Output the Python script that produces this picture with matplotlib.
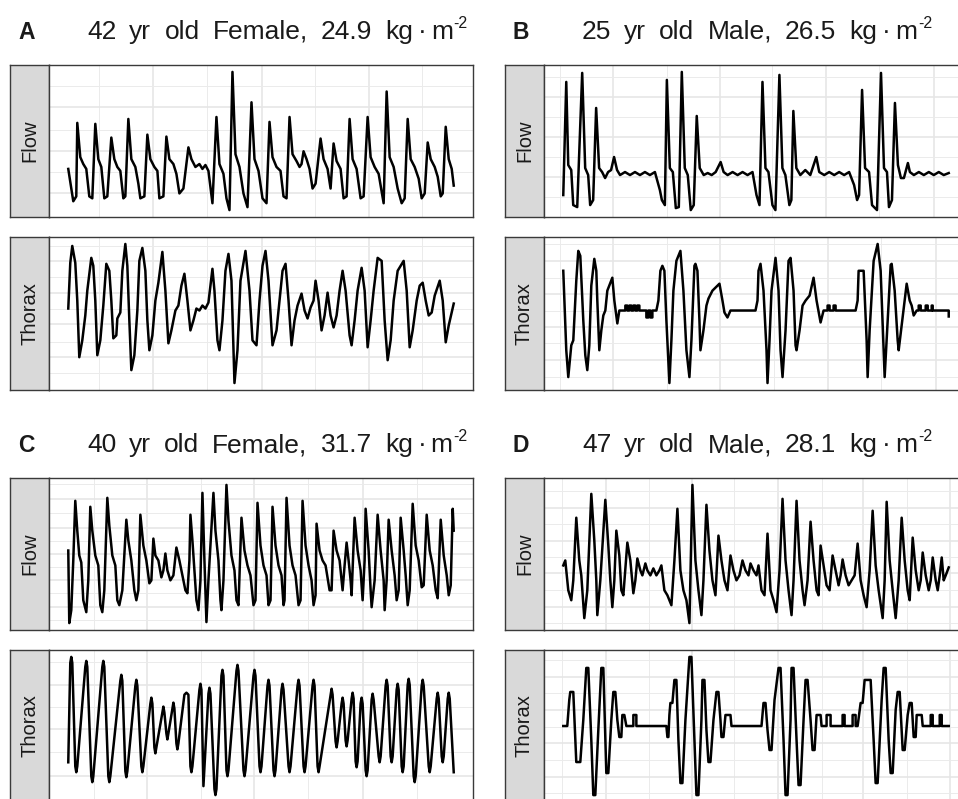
import matplotlib
matplotlib.use('Agg')
import matplotlib.pyplot as plt
import numpy as np

plt.rcParams['font.family'] = ['Liberation Sans', 'DejaVu Sans']

# ---- data: (sample, amplitude) ----
letters = ['A', 'B', 'C', 'D']
titles = ['42 yr old Female, 24.9', '25 yr old Male, 26.5',
          '40 yr old Female, 31.7', '47 yr old Male, 28.1']
facets = ['Flow', 'Thorax']

a_flow = [(69, 50), (74, 17), (77, 22), (78, 97), (81, 62), (84, 55), (87, 50), (90, 22), (93, 20),
          (96, 96), (99, 60), (102, 52), (105, 20), (108, 22), (112, 82), (115, 60), (118, 52), (121, 48),
          (124, 20), (126, 22), (129, 101), (132, 60), (136, 52), (139, 35), (141, 20), (145, 22), (148, 85),
          (151, 60), (155, 52), (158, 48), (160, 20), (164, 22), (167, 83), (170, 60), (174, 55), (177, 45),
          (180, 25), (184, 30), (189, 72), (192, 60), (196, 52), (200, 55), (203, 50), (206, 54), (209, 48),
          (213, 15), (217, 103), (220, 55), (224, 45), (227, 20), (230, 8), (233, 149), (236, 65), (240, 52),
          (244, 25), (248, 11), (252, 118), (255, 60), (259, 48), (263, 20), (267, 15), (270, 98), (273, 62),
          (277, 52), (281, 48), (284, 22), (287, 20), (290, 103), (293, 65), (297, 58), (300, 52), (302, 55),
          (304, 68), (307, 60), (310, 50), (313, 30), (316, 35), (321, 81), (324, 60), (328, 50), (331, 30),
          (334, 76), (337, 58), (341, 50), (344, 20), (347, 22), (350, 101), (353, 60), (357, 50), (361, 20),
          (364, 22), (368, 103), (371, 62), (375, 52), (379, 45), (384, 15), (387, 129), (390, 62), (394, 52),
          (398, 30), (402, 15), (405, 20), (408, 101), (411, 60), (415, 52), (419, 40), (422, 20), (425, 25),
          (428, 77), (431, 60), (435, 52), (438, 42), (441, 22), (443, 25), (446, 93), (449, 60), (452, 50),
          (454, 33)]

a_thorax = [(69, 92), (71, 138), (73, 155), (76, 138), (78, 100), (80, 43), (83, 60), (86, 85), (88, 110),
            (92, 143), (94, 135), (96, 100), (98, 45), (101, 60), (104, 95), (107, 137), (110, 130), (112, 100),
            (114, 62), (117, 65), (118, 82), (121, 88), (123, 130), (126, 157), (128, 135), (130, 80), (132, 30),
            (135, 45), (138, 90), (140, 140), (143, 153), (146, 130), (148, 80), (150, 50), (153, 65), (156, 100),
            (159, 118), (163, 149), (166, 110), (169, 57), (172, 70), (176, 90), (179, 95), (182, 115), (185, 127),
            (188, 100), (191, 70), (194, 80), (197, 92), (200, 90), (203, 95), (206, 92), (209, 98), (213, 132),
            (215, 110), (218, 60), (220, 50), (223, 80), (226, 130), (229, 147), (232, 120), (235, 17), (238, 50),
            (241, 120), (246, 150), (250, 110), (253, 60), (257, 55), (260, 100), (263, 135), (266, 150),
            (269, 120), (273, 55), (277, 70), (280, 100), (283, 130), (286, 137), (289, 100), (292, 55), (295, 80),
            (298, 95), (302, 107), (305, 90), (308, 82), (311, 93), (314, 100), (316, 120), (319, 100), (322, 70),
            (325, 85), (328, 108), (331, 85), (334, 73), (337, 85), (340, 110), (343, 130), (346, 110), (350, 65),
            (352, 55), (355, 80), (358, 110), (362, 133), (365, 110), (368, 53), (371, 80), (374, 110), (378, 143),
            (382, 140), (385, 80), (388, 40), (391, 60), (394, 100), (398, 130), (404, 140), (407, 110), (410, 53),
            (413, 70), (417, 100), (420, 115), (423, 118), (426, 100), (429, 85), (432, 88), (435, 105), (440, 120),
            (443, 100), (446, 58), (449, 75), (452, 88), (454, 97)]

b_flow = [(563, 25), (566, 138), (568, 55), (571, 50), (573, 15), (577, 13), (582, 147), (585, 52), (588, 45),
          (590, 15), (593, 20), (596, 112), (599, 52), (602, 48), (605, 42), (608, 48), (611, 50), (614, 63),
          (617, 50), (620, 45), (625, 48), (630, 45), (635, 48), (640, 45), (645, 48), (650, 45), (655, 48),
          (660, 30), (662, 20), (665, 15), (667, 140), (670, 52), (673, 48), (676, 12), (679, 13), (682, 148),
          (685, 52), (688, 45), (691, 10), (694, 15), (697, 104), (700, 52), (704, 45), (708, 47), (712, 45),
          (716, 48), (721, 58), (724, 48), (728, 45), (733, 48), (738, 45), (743, 48), (748, 45), (753, 48),
          (757, 25), (760, 15), (763, 138), (766, 52), (769, 48), (773, 15), (776, 10), (780, 145), (783, 52),
          (786, 45), (790, 15), (792, 20), (794, 109), (797, 52), (801, 45), (806, 50), (811, 45), (817, 63),
          (820, 48), (825, 45), (830, 48), (835, 45), (840, 48), (845, 45), (850, 48), (855, 35), (858, 20),
          (860, 25), (863, 130), (866, 52), (870, 48), (873, 15), (878, 10), (882, 147), (885, 52), (888, 48),
          (890, 13), (893, 20), (896, 117), (899, 55), (902, 42), (905, 42), (909, 57), (911, 48), (915, 45),
          (920, 48), (925, 45), (930, 48), (935, 45), (940, 48), (945, 45), (950, 47)]

b_thorax = [(563, 130), (566, 50), (568, 23), (571, 55), (573, 60), (576, 120), (578, 150), (580, 145),
            (583, 80), (585, 45), (587, 30), (589, 55), (591, 115), (594, 142), (596, 130), (597, 100), (599, 50),
            (601, 70), (603, 85), (605, 90), (607, 110), (612, 123), (614, 100), (617, 77), (619, 90), (625, 90),
            (625, 95), (627, 95), (627, 90), (629, 90), (629, 95), (631, 95), (631, 90), (633, 90), (633, 95),
            (635, 95), (635, 90), (637, 90), (637, 95), (639, 95), (639, 90), (646, 90), (646, 83), (648, 83),
            (648, 90), (650, 90), (650, 83), (652, 83), (652, 90), (656, 90), (658, 100), (660, 130), (662, 135),
            (664, 130), (666, 80), (669, 17), (671, 60), (673, 110), (676, 140), (680, 150), (683, 110), (686, 50),
            (689, 23), (691, 60), (694, 135), (695, 137), (697, 130), (699, 80), (700, 50), (703, 70), (706, 95),
            (708, 102), (712, 110), (719, 117), (722, 100), (724, 88), (727, 83), (730, 90), (755, 90), (757, 100),
            (758, 130), (760, 137), (763, 110), (766, 50), (767, 17), (769, 60), (771, 110), (775, 143), (778, 110),
            (780, 50), (782, 23), (785, 70), (788, 140), (790, 143), (793, 110), (795, 55), (796, 50), (799, 70),
            (802, 95), (805, 100), (809, 105), (813, 123), (816, 100), (820, 78), (823, 90), (827, 90), (827, 95),
            (829, 95), (829, 90), (833, 90), (833, 95), (835, 95), (835, 90), (855, 90), (857, 100), (858, 130),
            (863, 130), (866, 60), (867, 23), (869, 70), (873, 140), (877, 157), (880, 130), (883, 50), (884, 23),
            (887, 80), (890, 136), (891, 137), (894, 110), (897, 60), (898, 50), (901, 75), (904, 100), (906, 117),
            (909, 100), (911, 95), (913, 85), (916, 90), (918, 90), (918, 95), (920, 95), (920, 90), (925, 90),
            (925, 95), (927, 95), (927, 90), (931, 90), (931, 95), (932, 95), (932, 90), (948, 90), (948, 84)]

c_flow = [(69, 80), (70, 7), (72, 20), (74, 70), (76, 130), (78, 100), (80, 75), (82, 68), (84, 30), (87, 18),
          (89, 50), (91, 124), (93, 100), (96, 75), (99, 65), (101, 25), (103, 18), (105, 40), (108, 133),
          (110, 105), (113, 75), (116, 65), (118, 30), (120, 25), (123, 40), (127, 111), (129, 90), (132, 70),
          (135, 40), (137, 30), (139, 40), (141, 116), (144, 85), (147, 70), (150, 47), (152, 50), (154, 92),
          (156, 75), (159, 70), (162, 53), (164, 60), (166, 77), (168, 60), (171, 50), (174, 55), (177, 83),
          (180, 70), (183, 55), (186, 40), (188, 37), (190, 70), (191, 116), (193, 90), (195, 60), (197, 30),
          (199, 20), (201, 50), (203, 138), (205, 70), (207, 8), (209, 50), (214, 138), (216, 100), (219, 70),
          (221, 30), (222, 20), (224, 50), (227, 146), (229, 110), (232, 75), (235, 60), (237, 30), (239, 25),
          (242, 113), (245, 80), (248, 65), (251, 55), (254, 25), (256, 30), (258, 128), (261, 85), (264, 65),
          (267, 55), (269, 25), (271, 30), (273, 124), (276, 85), (279, 65), (282, 55), (284, 25), (285, 30),
          (287, 133), (290, 85), (293, 65), (296, 55), (299, 25), (301, 30), (303, 130), (306, 85), (309, 65),
          (312, 50), (314, 25), (316, 35), (317, 107), (320, 80), (323, 70), (326, 65), (330, 40), (332, 40),
          (334, 100), (337, 80), (340, 70), (343, 40), (345, 65), (347, 88), (349, 70), (351, 50), (352, 35),
          (355, 113), (358, 80), (361, 60), (363, 30), (365, 70), (366, 122), (369, 80), (371, 40), (372, 23),
          (375, 50), (378, 116), (381, 80), (384, 50), (385, 20), (387, 50), (389, 111), (392, 80), (395, 55),
          (397, 30), (399, 40), (401, 113), (404, 80), (406, 55), (408, 25), (410, 40), (413, 127), (416, 85),
          (419, 70), (422, 43), (424, 45), (427, 116), (430, 80), (433, 65), (436, 40), (438, 32), (441, 111),
          (444, 75), (447, 55), (449, 35), (451, 45), (453, 122), (454, 100)]

c_thorax = [(69, 37), (71, 137), (72, 143), (73, 137), (76, 33), (77, 27), (78, 33), (86, 133), (87, 139),
            (88, 133), (92, 23), (93, 17), (94, 23), (103, 133), (104, 139), (105, 133), (109, 23), (110, 17),
            (111, 23), (121, 119), (122, 125), (123, 119), (126, 28), (127, 22), (128, 28), (136, 114), (137, 120),
            (138, 114), (142, 33), (143, 27), (144, 33), (151, 96), (152, 102), (153, 96), (155, 52), (156, 46),
            (157, 52), (163, 87), (164, 93), (165, 87), (167, 66), (168, 60), (169, 66), (173, 91), (174, 97),
            (175, 91), (177, 56), (178, 50), (179, 56), (185, 105), (187, 107), (189, 105), (191, 33), (192, 27),
            (193, 33), (200, 110), (201, 116), (202, 110), (204, 13), (209, 106), (210, 112), (211, 106),
            (215, 10), (216, 4), (217, 10), (222, 124), (223, 130), (224, 124), (227, 29), (228, 23), (229, 29),
            (237, 129), (238, 135), (239, 129), (244, 29), (245, 23), (246, 29), (254, 124), (255, 130), (256, 124),
            (260, 33), (261, 27), (262, 33), (268, 114), (269, 120), (270, 114), (274, 29), (275, 23), (276, 29),
            (282, 110), (283, 116), (284, 110), (289, 33), (290, 27), (291, 33), (298, 114), (299, 120), (300, 114),
            (304, 33), (305, 27), (306, 33), (313, 114), (314, 120), (315, 114), (318, 33), (319, 27), (320, 33),
            (331, 105), (332, 111), (333, 105), (336, 58), (337, 52), (338, 58), (342, 96), (343, 102), (344, 96),
            (346, 59), (347, 53), (348, 59), (352, 101), (353, 107), (354, 101), (356, 38), (357, 32), (358, 38),
            (361, 96), (362, 102), (363, 96), (366, 29), (367, 23), (368, 29), (372, 100), (373, 106), (374, 100),
            (379, 43), (380, 37), (381, 43), (386, 114), (387, 120), (388, 114), (391, 43), (392, 37), (393, 43),
            (397, 110), (398, 116), (399, 110), (402, 33), (403, 27), (404, 33), (408, 115), (409, 121), (410, 115),
            (414, 23), (415, 17), (416, 23), (422, 114), (423, 120), (424, 114), (429, 33), (430, 27), (431, 33),
            (437, 101), (438, 107), (439, 101), (442, 43), (443, 37), (444, 43), (448, 101), (449, 107), (450, 101),
            (454, 27)]

d_flow = [(564, 65), (566, 70), (569, 40), (572, 30), (574, 50), (577, 113), (580, 70), (582, 55), (585, 12),
          (588, 40), (592, 137), (595, 90), (597, 50), (598, 15), (601, 50), (606, 131), (609, 85), (611, 50),
          (613, 23), (615, 50), (617, 100), (620, 75), (622, 40), (624, 35), (628, 88), (631, 70), (634, 37),
          (636, 50), (638, 72), (641, 60), (643, 55), (646, 67), (648, 60), (651, 55), (654, 62), (657, 55),
          (660, 60), (662, 65), (665, 40), (668, 35), (672, 25), (675, 70), (678, 122), (681, 60), (684, 40),
          (687, 30), (690, 7), (693, 146), (696, 70), (699, 40), (702, 15), (704, 50), (707, 126), (710, 80),
          (713, 50), (716, 35), (719, 95), (722, 70), (725, 50), (728, 40), (731, 75), (734, 60), (737, 50),
          (740, 55), (743, 70), (746, 60), (749, 55), (751, 67), (754, 60), (757, 55), (759, 65), (762, 40),
          (765, 35), (768, 97), (771, 40), (774, 30), (777, 18), (780, 60), (783, 132), (786, 70), (789, 40),
          (792, 15), (794, 50), (797, 130), (800, 70), (803, 40), (805, 25), (808, 50), (811, 109), (814, 70),
          (817, 40), (819, 35), (821, 85), (824, 65), (827, 45), (830, 40), (833, 75), (836, 60), (839, 45),
          (841, 55), (843, 71), (846, 55), (849, 45), (852, 50), (855, 55), (858, 87), (861, 50), (864, 35),
          (867, 23), (870, 60), (873, 120), (876, 65), (879, 40), (883, 12), (885, 50), (887, 129), (890, 70),
          (893, 40), (896, 12), (899, 50), (902, 113), (905, 70), (908, 40), (910, 30), (913, 93), (916, 60),
          (919, 40), (921, 50), (923, 78), (926, 55), (929, 40), (931, 50), (933, 73), (936, 50), (938, 40),
          (940, 55), (942, 73), (944, 50), (946, 55), (949, 63)]

d_thorax = [(564, 74), (568, 74), (570, 100), (571, 108), (574, 108), (576, 60), (577, 38), (581, 38), (584, 80),
            (587, 132), (589, 132), (592, 60), (594, 5), (596, 5), (599, 70), (602, 132), (604, 132), (606, 60),
            (607, 27), (609, 27), (612, 80), (614, 108), (616, 108), (618, 80), (620, 63), (622, 63), (623, 85),
            (625, 85), (627, 74), (634, 74), (634, 85), (637, 85), (637, 74), (667, 74), (668, 63), (669, 63),
            (670, 85), (671, 97), (673, 97), (675, 120), (677, 120), (679, 60), (681, 17), (683, 17), (686, 80),
            (690, 143), (692, 143), (695, 60), (697, 5), (699, 5), (702, 80), (703, 120), (705, 120), (707, 70),
            (709, 38), (711, 38), (714, 80), (717, 108), (719, 108), (721, 80), (722, 63), (724, 63), (726, 85),
            (731, 85), (732, 74), (762, 74), (763, 85), (764, 97), (766, 97), (768, 70), (770, 50), (772, 50),
            (775, 100), (779, 132), (781, 132), (784, 60), (786, 5), (788, 5), (791, 80), (792, 132), (794, 132),
            (797, 60), (799, 15), (801, 15), (804, 80), (806, 120), (808, 120), (811, 80), (813, 50), (815, 50),
            (817, 85), (821, 85), (822, 74), (827, 74), (827, 85), (831, 85), (831, 74), (843, 74), (843, 85),
            (845, 85), (845, 74), (853, 74), (853, 85), (856, 85), (856, 74), (858, 74), (861, 97), (863, 97),
            (865, 120), (871, 120), (874, 60), (876, 17), (878, 17), (882, 100), (884, 132), (886, 132), (889, 60),
            (891, 27), (893, 27), (896, 90), (898, 108), (900, 108), (902, 70), (903, 50), (905, 50), (908, 85),
            (910, 97), (912, 97), (914, 63), (916, 63), (917, 85), (922, 85), (923, 74), (931, 74), (931, 85),
            (933, 85), (933, 74), (940, 74), (940, 85), (942, 85), (942, 74), (949, 74)]

signals = {'A': (a_flow, a_thorax), 'B': (b_flow, b_thorax),
           'C': (c_flow, c_thorax), 'D': (d_flow, d_thorax)}

# grid breaks per panel (x shared by both facets; y per facet)
grid_x = {'A': [100, 154, 208, 262, 315, 369, 422],
          'B': [560, 613, 667, 720, 773, 827, 880, 935],
          'C': [95, 148, 202, 255, 308, 363, 417],
          'D': [563, 607, 650, 693, 735, 778, 822, 863, 907, 950]}
grid_y = {'A': ([135, 113, 90, 68, 47, 25], [155, 140, 124, 108, 92, 76, 58, 43, 27]),
          'B': ([143, 123, 103, 83, 63, 43, 23], [157, 140, 123, 107, 90, 73, 57, 40, 23]),
          'C': ([147, 132, 118, 103, 90, 77, 63, 50, 37, 23, 10], [138, 115, 93, 70, 47, 23, 0]),
          'D': ([140, 123, 107, 90, 73, 57, 40, 23, 7], [140, 123, 107, 90, 73, 57, 40, 23, 7])}

# ---- layout (pixels) ----
W, H = 958, 799
fig = plt.figure(figsize=(W / 100, H / 100), dpi=100)
fig.patch.set_facecolor('white')
renderer = fig.canvas.get_renderer()
col_x = [10, 505]
row_y = [(65, 217, 237, 390), (478, 630, 650, 802)]
title_base = [39, 452]
strip_w = 39
panel_w = 463
edge = '#3a3a3a'
ink = '#1a1a1a'
title_size = 19
word_gap = 13


def px_axes(x0, y0, x1, y1):
    return fig.add_axes([x0 / W, 1 - y1 / H, (x1 - x0) / W, (y1 - y0) / H])


def draw_facet(x0, y0, y1, label, pts, gx, gy):
    strip = px_axes(x0, y0, x0 + strip_w, y1)
    strip.set_facecolor('#d9d9d9')
    strip.set_xticks([])
    strip.set_yticks([])
    for s in strip.spines.values():
        s.set_color(edge)
        s.set_linewidth(1.0)
    strip.text(0.5, 0.5, label, rotation=90, ha='center', va='center',
               transform=strip.transAxes, fontsize=14.5, color=ink)

    ax = px_axes(x0 + strip_w, y0, x0 + panel_w, y1)
    t, v = np.array(pts, dtype=float).T
    ax.plot(t, v, color='black', lw=1.8, solid_joinstyle='round')
    dx = (t.max() - t.min()) * 0.05
    dy = (v.max() - v.min()) * 0.05
    ax.set_xlim(t.min() - dx, t.max() + dx)
    ax.set_ylim(v.min() - dy, v.max() + dy)
    ax.set_xticks(gx[1::2])
    ax.set_xticks(gx[0::2], minor=True)
    ax.set_yticks(gy[1::2])
    ax.set_yticks(gy[0::2], minor=True)
    ax.grid(which='major', color='#e6e6e6', lw=1.2)
    ax.grid(which='minor', color='#ebebeb', lw=0.7)
    ax.set_axisbelow(True)
    ax.tick_params(which='both', length=0, labelbottom=False, labelleft=False)
    for s in ax.spines.values():
        s.set_color(edge)
        s.set_linewidth(1.0)


def put(x_px, base_px, s, size, **kw):
    t = fig.text(x_px / W, 1 - base_px / H, s, fontsize=size, ha='left',
                 va='baseline', color=ink, **kw)
    return t.get_window_extent(renderer).x1


for i, key in enumerate(letters):
    r, c = divmod(i, 2)
    x0 = col_x[c]
    fy0, fy1, ty0, ty1 = row_y[r]
    flow, thorax = signals[key]
    draw_facet(x0, fy0, fy1, facets[0], flow, grid_x[key], grid_y[key][0])
    draw_facet(x0, ty0, ty1, facets[1], thorax, grid_x[key], grid_y[key][1])

    base = title_base[r]
    put(x0 + 8, base, key, 16.5, fontweight='bold')
    # plotmath-style title: wide word spacing, dot product and superscript
    x = x0 + 77 - word_gap
    for word in titles[i].split() + ['kg']:
        x = put(x + word_gap, base, word, title_size)
    x = put(x + 5, base, '\u00b7', title_size)
    x = put(x + 4, base, 'm', title_size)
    put(x + 1, base - 11, '-2', 11.5)

fig.savefig('out.png', dpi=100, facecolor='white')
